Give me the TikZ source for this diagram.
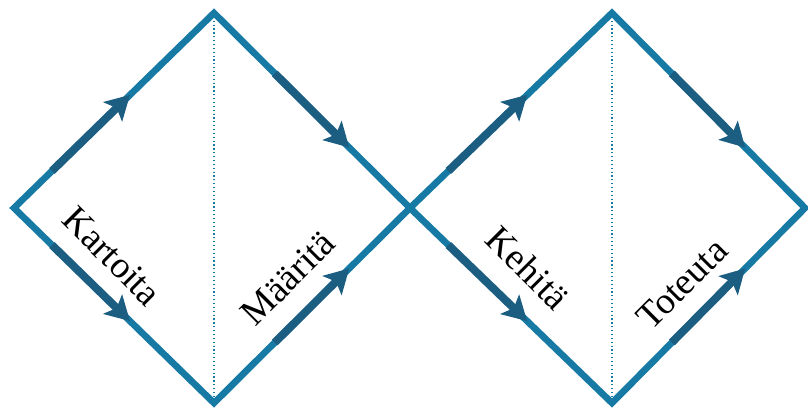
\documentclass[tikz,border=0pt]{standalone}
\usepackage{fontspec}
\setmainfont{Liberation Serif}
\usetikzlibrary{arrows.meta,calc}
\definecolor{edgeblue}{RGB}{22,122,164}
\definecolor{arrowblue}{RGB}{28,94,130}
\tikzset{
  diamondedge/.style={draw=edgeblue, line width=5pt, line join=miter},
  flowarrow/.style={draw=arrowblue, line width=6pt, -{Stealth[length=18pt,width=20pt,inset=4pt]}},
  divider/.style={draw=edgeblue, line width=0.9pt, dotted},
  phase/.style={font=\fontsize{28}{31}\selectfont, inner sep=0pt}
}
\begin{document}
\begin{tikzpicture}[x=0.75pt,y=-0.75pt]
\useasboundingbox (0,0) rectangle (808,409);
% left diamond
\coordinate (L1) at (14,208);
\coordinate (T1) at (214,13);
\coordinate (B1) at (214,403);
\coordinate (M) at (410,208);
% right diamond
\coordinate (T2) at (612,13);
\coordinate (B2) at (612,403);
\coordinate (R2) at (805,208);
\draw[divider] (T1) -- (B1);
\draw[divider] (T2) -- (B2);
\draw[diamondedge] (L1) -- (T1) -- (M) -- (B1) -- cycle;
\draw[diamondedge] (M) -- (T2) -- (R2) -- (B2) -- cycle;
% arrows
\draw[flowarrow] ($(L1)!0.19!(T1)$) -- ($(L1)!0.58!(T1)$);
\draw[flowarrow] ($(L1)!0.19!(B1)$) -- ($(L1)!0.58!(B1)$);
\draw[flowarrow] ($(T1)!0.31!(M)$) -- ($(T1)!0.69!(M)$);
\draw[flowarrow] ($(B1)!0.31!(M)$) -- ($(B1)!0.69!(M)$);
\draw[flowarrow] ($(M)!0.19!(T2)$) -- ($(M)!0.58!(T2)$);
\draw[flowarrow] ($(M)!0.19!(B2)$) -- ($(M)!0.58!(B2)$);
\draw[flowarrow] ($(T2)!0.31!(R2)$) -- ($(T2)!0.69!(R2)$);
\draw[flowarrow] ($(B2)!0.31!(R2)$) -- ($(B2)!0.69!(R2)$);
% labels
\node[phase, rotate=-45] (kartoita) at (112,256) {Kartoita};
\node[phase, rotate=45] (maarita) at (288,278) {Määritä};
\node[phase, rotate=-45] (kehita) at (528,268) {Kehitä};
\node[phase, rotate=45] (toteuta) at (682,284) {Toteuta};
\end{tikzpicture}
\end{document}
